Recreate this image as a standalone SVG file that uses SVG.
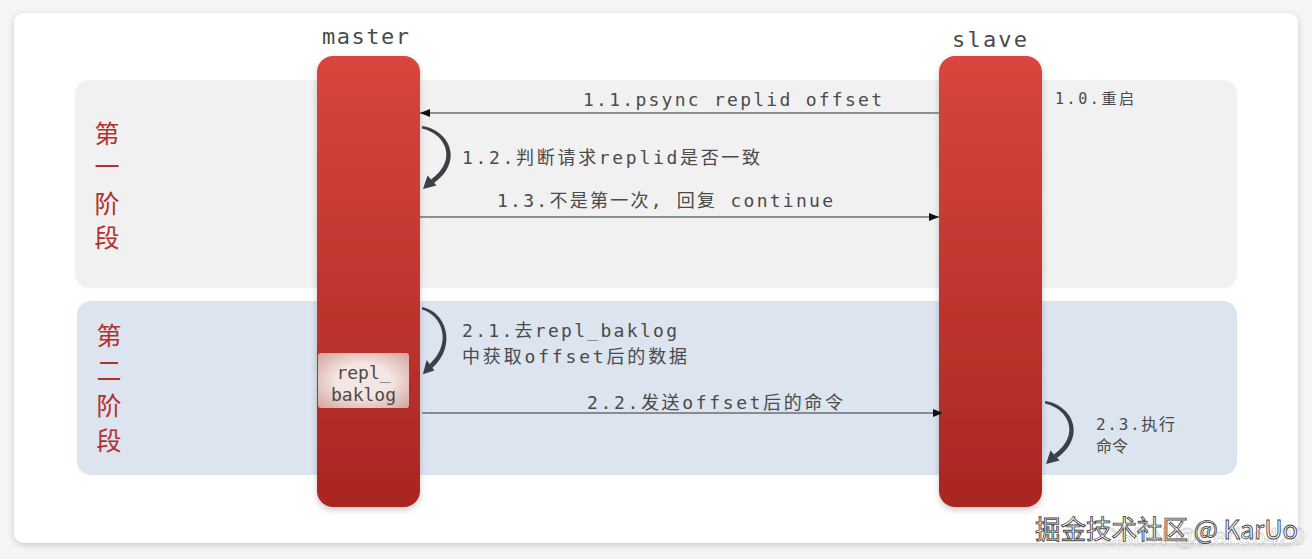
<svg xmlns="http://www.w3.org/2000/svg" width="1312" height="559" viewBox="0 0 1312 559">
<defs>
<style>
.mono{font-family:"DejaVu Sans Mono","Noto Sans CJK SC",monospace;fill:#4a4a4a;}
.lbl{font-size:18px;}
.phase{font-family:"Noto Sans CJK SC","Noto Sans",sans-serif;font-size:25px;fill:#b5302c;text-anchor:middle;}
.msg{stroke:#6b6f73;stroke-width:1.6;fill:none;}
.loop{fill:#3a4045;}
</style>
<linearGradient id="barGrad" x1="0" y1="0" x2="0" y2="1">
<stop offset="0" stop-color="#d9453f"/>
<stop offset="1" stop-color="#a92622"/>
</linearGradient>
<radialGradient id="boxGrad" cx="0.5" cy="0.5" r="0.65">
<stop offset="0.45" stop-color="#f6e6e2"/>
<stop offset="1" stop-color="#d6aca5"/>
</radialGradient>
<filter id="cardShadow" x="-5%" y="-5%" width="110%" height="115%">
<feDropShadow dx="0" dy="2" stdDeviation="3" flood-color="#000" flood-opacity="0.18"/>
</filter>
<filter id="barShadow" x="-20%" y="-5%" width="140%" height="112%">
<feDropShadow dx="0" dy="3" stdDeviation="3" flood-color="#000" flood-opacity="0.2"/>
</filter>
<marker id="arrow" viewBox="0 0 10 8" refX="10" refY="4" markerWidth="10" markerHeight="8" markerUnits="userSpaceOnUse" orient="auto">
<path d="M0,0 L10,4 L0,8 Z" fill="#111"/>
</marker>
<g id="loopShape">
<path class="loop" d="M0,-1 C28,3 42,35 12,56 L9,52.5 C36,33 24,7 0,1.5 Z"/>
<polygon class="loop" points="1,62 14.5,58.5 5.5,48.5"/>
</g>
</defs>

<rect x="0" y="0" width="1312" height="559" fill="#f5f5f5"/>
<rect x="14" y="13" width="1284" height="530" rx="10" fill="#ffffff" filter="url(#cardShadow)"/>

<g id="phase1">
<rect x="75" y="80" width="1162" height="208" rx="14" fill="#f1f1f1"/>
<text class="phase" x="107" y="143">第</text>
<text class="phase" x="107" y="176">一</text>
<text class="phase" x="107" y="213">阶</text>
<text class="phase" x="107" y="247">段</text>
</g>

<g id="phase2">
<rect x="77" y="301" width="1160" height="174" rx="14" fill="#dbe4ef"/>
<text class="phase" x="109" y="345">第</text>
<text class="phase" x="109" y="380">二</text>
<text class="phase" x="109" y="415">阶</text>
<text class="phase" x="109" y="450">段</text>
</g>

<g id="master">
<text class="mono" x="322" y="44" font-size="22" textLength="87" lengthAdjust="spacing">master</text>
<rect x="317" y="56" width="103" height="451" rx="16" fill="url(#barGrad)" filter="url(#barShadow)"/>
</g>

<g id="slave">
<text class="mono" x="952" y="47" font-size="22" textLength="75" lengthAdjust="spacing">slave</text>
<rect x="939" y="56" width="103" height="451" rx="16" fill="url(#barGrad)" filter="url(#barShadow)"/>
</g>

<g id="repl_baklog">
<rect x="318" y="353" width="91" height="55" rx="3" fill="url(#boxGrad)"/>
<text class="mono" x="363.5" y="379" font-size="18" text-anchor="middle">repl_</text>
<text class="mono" x="363.5" y="401" font-size="18" text-anchor="middle">baklog</text>
</g>

<g id="connectors">
<line class="msg" x1="939" y1="113" x2="420" y2="113" marker-end="url(#arrow)"/>
<use href="#loopShape" transform="translate(422,127)"/>
<line class="msg" x1="420" y1="217" x2="939" y2="217" marker-end="url(#arrow)"/>
<use href="#loopShape" transform="translate(422,308) scale(0.85,1.07)"/>
<line class="msg" x1="422" y1="413" x2="943" y2="413" marker-end="url(#arrow)"/>
<use href="#loopShape" transform="translate(1045,402)"/>
</g>

<g id="labels">
<text class="mono" x="1055" y="104" font-size="15" textLength="79" lengthAdjust="spacing">1.0.重启</text>
<text class="mono lbl" x="583" y="106" textLength="299" lengthAdjust="spacing">1.1.psync replid offset</text>
<text class="mono lbl" x="462" y="164" textLength="298" lengthAdjust="spacing">1.2.判断请求replid是否一致</text>
<text class="mono lbl" x="497" y="207" textLength="336" lengthAdjust="spacing">1.3.不是第一次, 回复 continue</text>
<text class="mono lbl" x="462" y="337" textLength="215" lengthAdjust="spacing">2.1.去repl_baklog</text>
<text class="mono lbl" x="462" y="363" textLength="225" lengthAdjust="spacing">中获取offset后的数据</text>
<text class="mono lbl" x="587" y="409" textLength="256" lengthAdjust="spacing">2.2.发送offset后的命令</text>
<text class="mono" x="1096" y="430" font-size="16" textLength="79" lengthAdjust="spacing">2.3.执行</text>
<text class="mono" x="1096" y="452" font-size="16">命令</text>
</g>

<g id="watermark">
<text x="1100" y="545" font-family="Liberation Sans,Noto Sans CJK SC,sans-serif" font-size="24" fill="#ffffff" stroke="#bbbbbb" stroke-width="0.8" opacity="0.7" textLength="205" lengthAdjust="spacingAndGlyphs">CSDN @KarUo420</text>
<text x="1035" y="539" font-family="Noto Sans CJK SC,sans-serif" font-size="26" fill="#ffffff" stroke="#444444" stroke-width="0.9" textLength="263" lengthAdjust="spacingAndGlyphs">掘金技术社区 @ KarUo</text>
</g>
</svg>
